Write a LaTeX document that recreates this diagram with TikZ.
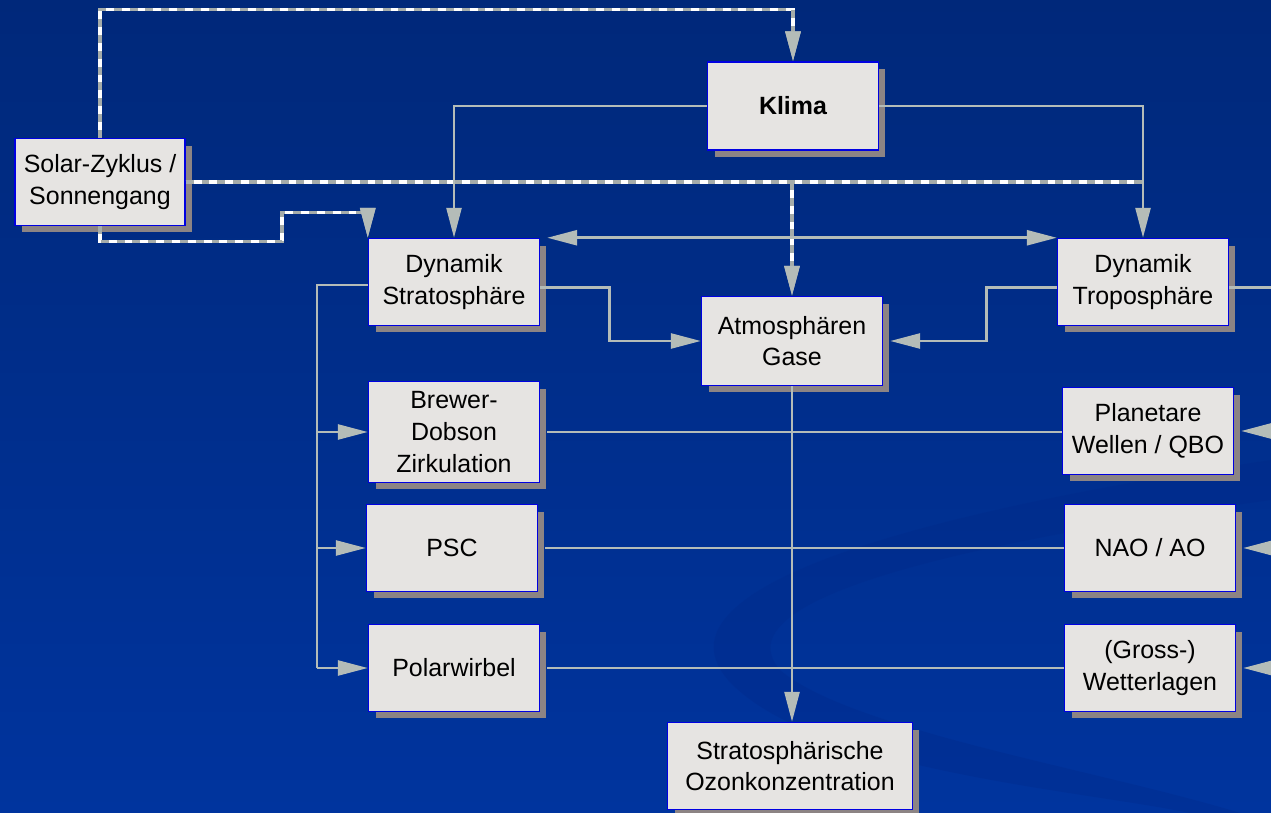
\documentclass[tikz,border=0pt]{standalone}
\usepackage{fontspec}
\setmainfont{Liberation Sans}
\usetikzlibrary{arrows.meta,shadows}
\definecolor{bgtop}{RGB}{0,40,122}
\definecolor{bgbot}{RGB}{0,52,158}
\definecolor{swoosh}{RGB}{0,40,135}
\definecolor{boxfill}{RGB}{230,228,226}
\definecolor{boxline}{RGB}{0,0,225}
\definecolor{boxshade}{RGB}{140,132,132}
\definecolor{linegray}{RGB}{180,188,184}
\definecolor{dashgray}{RGB}{165,172,170}
\tikzset{
  box/.style={draw=boxline, line width=0.85pt, fill=boxfill, align=center,
    inner sep=2pt, minimum width=3.42cm, minimum height=1.74cm,
    font=\fontsize{14.2}{18}\selectfont,
    drop shadow={shadow xshift=0.14cm, shadow yshift=-0.14cm,
      fill=boxshade, opacity=1}},
  tip/.style={-{Triangle[length=17pt,width=8.5pt,color=linegray]}},
  conn/.style={draw=linegray, line width=1.5pt},
  arr/.style={conn, tip},
  both/.style={conn, {Triangle[length=17pt,width=8.5pt]}-{Triangle[length=17pt,width=8.5pt]}},
  sun/.style={draw=white, line width=1.8pt,
    postaction={draw=dashgray, line width=1.8pt, dash pattern=on 4.5pt off 4.5pt}},
}
\begin{document}
\begin{tikzpicture}[x=0.02cm, y=-0.02cm]
% background
\shade[top color=bgtop, bottom color=bgbot] (0,0) rectangle (1271,813);
\useasboundingbox (0,0) rectangle (1271,813);
\fill[swoosh, opacity=0.3] (1271,460) .. controls (900,515) and (650,590) .. (728,680)
  .. controls (810,770) and (1080,790) .. (1190,813) -- (1240,813)
  .. controls (1100,770) and (850,730) .. (780,670)
  .. controls (720,600) and (950,545) .. (1271,500) -- cycle;

% boxes
\node[box, minimum width=3.4cm] (solar) at (100,182) {Solar-Zyklus /\\Sonnengang};
\node[box, minimum height=1.76cm, font=\fontsize{14.2}{18}\selectfont\bfseries] (klima) at (793,106) {Klima};
\node[box] (dstrat) at (454,282) {Dynamik\\Stratosphäre};
\node[box, minimum width=3.62cm, minimum height=1.78cm] (atmos) at (792,341) {Atmosphären\\Gase};
\node[box] (dtrop) at (1143,282) {Dynamik\\Troposphäre};
\node[box, minimum height=2.02cm] (brewer) at (454,432) {Brewer-\\Dobson\\Zirkulation};
\node[box] (psc) at (452,548) {PSC};
\node[box] (polar) at (454,668) {Polarwirbel};
\node[box] (planet) at (1148,431) {Planetare\\Wellen / QBO};
\node[box] (nao) at (1150,548) {NAO / AO};
\node[box] (gross) at (1150,668) {(Gross-)\\Wetterlagen};
\node[box, minimum width=4.9cm] (ozon) at (790,766) {Stratosphärische\\Ozonkonzentration};

\coordinate (bus) at (317,285);
\coordinate (redge) at (1271,0);

% solar cycle
\draw[sun, tip] (solar.north) |- ([yshift=1.04cm]klima.north) -- (klima.north);
\draw[sun] (solar.east) -- (solar.east -| dtrop.north);
\draw[sun, tip] (atmos.north |- solar.east) -- (atmos.north);
\draw[sun, tip] (solar.south) -- ++(0,15) -| ++(182,-29) -| (dstrat.north west);

% klima
\draw[arr] (klima.west) -| (dstrat.north);
\draw[arr] (klima.east) -| (dtrop.north);

% dynamics
\draw[both] ([xshift=0.14cm]dstrat.north east) -- (dtrop.north west);
\draw[arr] ([yshift=-3]dstrat.east) -- ++(69,0) |- (atmos.west);
\draw[arr] ([yshift=-3]dtrop.west) -- ++(-70,0) |- ([xshift=0.14cm]atmos.east);
\draw[conn] ([yshift=-3]dtrop.east) -- ([yshift=-3]dtrop.east -| redge);
\draw[arr] (atmos.south) -- (atmos.south |- ozon.north);

% stratosphere branch
\draw[conn] (bus -| dstrat.west) -- (bus) -- (bus |- polar.west);
\foreach \n in {brewer,psc,polar}
  \draw[arr] (bus |- \n.west) -- (\n.west);
\draw[conn] ([xshift=0.14cm]brewer.east) -- (brewer.east -| planet.west);
\draw[conn] ([xshift=0.14cm]psc.east) -- (psc.east -| nao.west);
\draw[conn] ([xshift=0.14cm]polar.east) -- (polar.east -| gross.west);

% troposphere branch
\foreach \n in {planet,nao,gross}
  \draw[arr] (\n.east -| redge) -- ([xshift=0.14cm]\n.east);
\end{tikzpicture}
\end{document}
